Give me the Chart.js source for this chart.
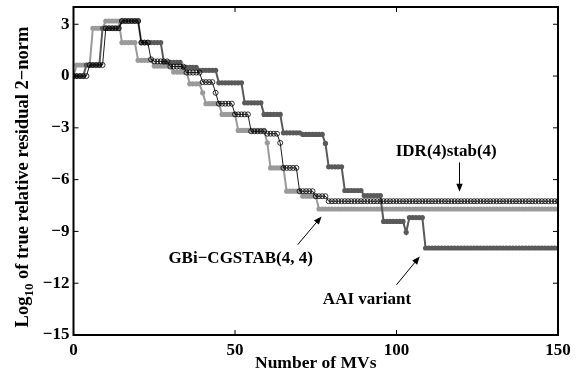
<!DOCTYPE html>
<html>
<head>
<meta charset="utf-8">
<script src="https://cdn.jsdelivr.net/npm/chart.js@4.4.1/dist/chart.umd.min.js"></script>
<style>
html, body { margin: 0; padding: 0; background: #fff; }
#wrap { width: 576px; height: 376px; }
</style>
</head>
<body>
<div id="wrap"><canvas id="chart" width="576" height="376"></canvas></div>
<script>
// axis ticks
var xTicks = [0, 50, 100, 150];
var yTicks = [-15, -12, -9, -6, -3, 0, 3];

// every series is a staircase: level value + number of MVs it stays there
var idrLevels = [0, 0.64, 2.77, 3.19, 1.94, 0.97, 0.85, 0.55, 0.2, -0.35, -0.97, -1.6, -2.22, -3.2, -3.34, -3.87, -5.32, -6.67, -6.96, -7.25];
var idrRuns   = [5, 5,    5,    6,    3,    1,    5,    5,    5,   4,     1,     5,    5,     5,    4,     1,     5,     5,     4,     72];

var gbiLevels = [0, 0.64, 2.77, 3.19, 1.94, 0.91, 0.58, 0.23, -0.45, -0.97, -1.6, -2.22, -3.15, -3.87, -5.32, -6.67, -6.96, -7.7];
var gbiRuns   = [1, 5,    4,    5,    5,    5,    6,    5,    4,     1,     5,    5,     9,     1,     5,     5,     5,     75];

var aaiLevels = [0, 0.64, 2.77, 3.19, 1.94, 0.8, 0.5, 0.33, -0.39, -1.55, -2.22, -3.29, -3.38, -3.9, -5.26, -6.63, -6.92, -8.42, -9.05, -8.2, -9.96];
var aaiRuns   = [4, 5,    6,    6,    7,    6,   5,   6,    8,     6,     6,     6,     7,     1,    5,     6,     6,     7,     1,     5,    42];

// text labels with arrows, in data units
var notes = [
    { text: 'IDR(4)stab(4)',      x: 115.4, y: -4.64,  align: 'center', from: [119.5, -5.0],  to: [119.5, -6.7] },
    { text: 'GBi\u2212CGSTAB(4, 4)', x: 74.1, y: -10.81, align: 'right',  from: [69.4, -9.77],  to: [76.8, -8.13] },
    { text: 'AAI variant',        x: 77.2,  y: -13.19, align: 'left',   from: [100.0, -12.09], to: [107.2, -10.45] }
];

var FONT = '"Liberation Serif", "Times New Roman", serif';

function expandSteps(levels, runs) {
    var pts = [];
    var mv = 0;
    for (var i = 0; i < levels.length; i++) {
        for (var k = 0; k < runs[i]; k++) {
            pts.push({ x: mv, y: levels[i] });
            mv++;
        }
    }
    return pts;
}

function minusLabel(v) {
    return v < 0 ? '\u2212' + Math.abs(v) : String(v);
}

function drawArrow(ctx, x1, y1, x2, y2) {
    var ang = Math.atan2(y2 - y1, x2 - x1);
    var len = 8, half = 3.2;
    ctx.beginPath();
    ctx.moveTo(x1, y1);
    ctx.lineTo(x2 - Math.cos(ang) * len * 0.8, y2 - Math.sin(ang) * len * 0.8);
    ctx.stroke();
    ctx.beginPath();
    ctx.moveTo(x2, y2);
    ctx.lineTo(x2 - Math.cos(ang) * len - Math.sin(ang) * half, y2 - Math.sin(ang) * len + Math.cos(ang) * half);
    ctx.lineTo(x2 - Math.cos(ang) * len + Math.sin(ang) * half, y2 - Math.sin(ang) * len - Math.cos(ang) * half);
    ctx.closePath();
    ctx.fill();
}

var frameAndNotes = {
    id: 'frameAndNotes',
    afterDraw: function (chart) {
        var ctx = chart.ctx;
        var a = chart.chartArea;
        var xs = chart.scales.x, ys = chart.scales.y;
        ctx.save();
        ctx.strokeStyle = '#000';
        ctx.fillStyle = '#000';

        // box with inward ticks on all sides
        ctx.lineWidth = 2;
        ctx.strokeRect(a.left, a.top, a.right - a.left, a.bottom - a.top);
        ctx.lineWidth = 1;
        ctx.beginPath();
        xTicks.forEach(function (v) {
            var px = xs.getPixelForValue(v);
            ctx.moveTo(px, a.bottom); ctx.lineTo(px, a.bottom - 5);
            ctx.moveTo(px, a.top); ctx.lineTo(px, a.top + 5);
        });
        yTicks.forEach(function (v) {
            var py = ys.getPixelForValue(v);
            ctx.moveTo(a.left, py); ctx.lineTo(a.left + 5, py);
            ctx.moveTo(a.right, py); ctx.lineTo(a.right - 5, py);
        });
        ctx.stroke();

        // notes
        ctx.font = 'bold 17px ' + FONT;
        ctx.textBaseline = 'alphabetic';
        notes.forEach(function (n) {
            ctx.textAlign = n.align;
            ctx.fillText(n.text, xs.getPixelForValue(n.x), ys.getPixelForValue(n.y));
            drawArrow(ctx,
                xs.getPixelForValue(n.from[0]), ys.getPixelForValue(n.from[1]),
                xs.getPixelForValue(n.to[0]), ys.getPixelForValue(n.to[1]));
        });

        // x title
        ctx.textAlign = 'center';
        ctx.font = 'bold 17.5px ' + FONT;
        ctx.fillText('Number of MVs', (a.left + a.right) / 2, 368);

        // y title with subscript
        var rest = ' of true relative residual 2\u2212norm';
        var big = 'bold 18.5px ' + FONT, small = 'bold 13px ' + FONT;
        ctx.translate(28, 177);
        ctx.rotate(-Math.PI / 2);
        ctx.textAlign = 'left';
        ctx.font = big;
        var w1 = ctx.measureText('Log').width;
        var w3 = ctx.measureText(rest).width;
        ctx.font = small;
        var w2 = ctx.measureText('10').width;
        var x0 = -(w1 + w2 + w3) / 2;
        ctx.font = big;
        ctx.fillText('Log', x0, 0);
        ctx.font = small;
        ctx.fillText('10', x0 + w1, 5);
        ctx.font = big;
        ctx.fillText(rest, x0 + w1 + w2, 0);
        ctx.restore();
    }
};

new Chart(document.getElementById('chart'), {
    type: 'line',
    data: {
        datasets: [{
            label: 'IDR(4)stab(4)',
            data: expandSteps(idrLevels, idrRuns),
            borderColor: '#000',
            borderWidth: 0.9,
            pointRadius: 2.5,
            pointBorderWidth: 0.8,
            pointBorderColor: '#000',
            pointBackgroundColor: 'rgba(255,255,255,0)',
            order: 1
        }, {
            label: 'AAI variant',
            data: expandSteps(aaiLevels, aaiRuns),
            borderColor: '#5a5a5a',
            borderWidth: 2,
            pointRadius: 2.6,
            pointBorderWidth: 0,
            pointBackgroundColor: '#5a5a5a',
            order: 2
        }, {
            label: 'GBi-CGSTAB(4, 4)',
            data: expandSteps(gbiLevels, gbiRuns),
            borderColor: '#9a9a9a',
            borderWidth: 2,
            pointRadius: 2.6,
            pointBorderWidth: 0,
            pointBackgroundColor: '#9a9a9a',
            order: 3
        }]
    },
    options: {
        responsive: false,
        animation: false,
        devicePixelRatio: 1,
        layout: { padding: { left: 0, right: 18, top: 7, bottom: 0 } },
        plugins: { legend: { display: false }, tooltip: { enabled: false } },
        scales: {
            x: {
                type: 'linear',
                min: 0, max: 150,
                grid: { display: false, drawTicks: false },
                border: { display: false },
                ticks: { color: '#000', padding: 5, font: { family: FONT, size: 17, weight: 'bold' } },
                afterBuildTicks: function (s) { s.ticks = xTicks.map(function (v) { return { value: v }; }); },
                afterFit: function (s) { s.height = 41; s.paddingLeft = 0; s.paddingRight = 0; }
            },
            y: {
                min: -15, max: 4,
                grid: { display: false, drawTicks: false },
                border: { display: false },
                ticks: { color: '#000', padding: 4, callback: minusLabel, font: { family: FONT, size: 17, weight: 'bold' } },
                afterBuildTicks: function (s) { s.ticks = yTicks.map(function (v) { return { value: v }; }); },
                afterFit: function (s) { s.width = 73.5; s.paddingTop = 0; s.paddingBottom = 0; }
            }
        }
    },
    plugins: [frameAndNotes]
});
</script>
</body>
</html>
